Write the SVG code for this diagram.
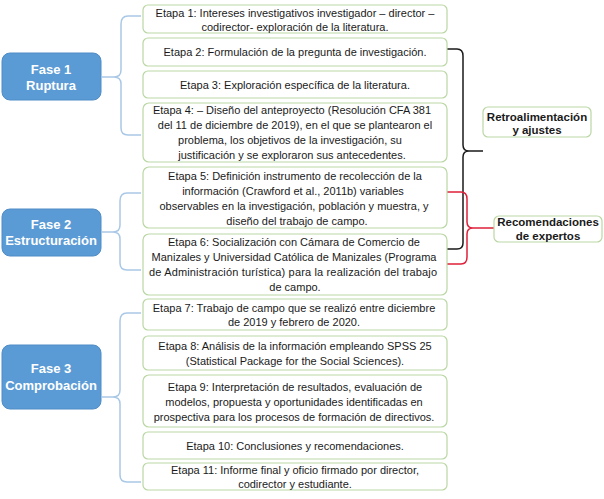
<svg xmlns="http://www.w3.org/2000/svg" width="604" height="499" viewBox="0 0 604 499">
<style>
.fase rect{fill:#5B9BD5;stroke:#4F8CC6;stroke-width:1}
.fase text{font-family:"Liberation Sans",Arial,sans-serif;font-size:13px;font-weight:bold;fill:#FFFFFF;text-anchor:middle}
.etapa rect{fill:#FFFFFF;stroke:#B9D7A3;stroke-width:1.2}
.etapa text{font-family:"Liberation Sans",Arial,sans-serif;font-size:11px;fill:#1A1A1A;text-anchor:middle}
.etapa text.just{text-anchor:start}
.note rect{fill:#FFFFFF;stroke:#B9D7A3;stroke-width:1.2}
.note text{font-family:"Liberation Sans",Arial,sans-serif;font-size:11.5px;font-weight:bold;fill:#1A1A1A;text-anchor:middle}
.blue{fill:none;stroke:#A9C8E6;stroke-width:1.5}
.black{fill:none;stroke:#1A1A1A;stroke-width:1.5}
.red{fill:none;stroke:#E0203A;stroke-width:1.5}
</style>
<g id="connectors">
<path class="blue" d="M141,16 H128 Q121,16 121,24 V70 Q121,77 114,77 H102 M114,77 Q121,77 121,84 V128 Q121,135 128,135 H141"/>
<path class="blue" d="M141,193 H127 Q120,193 120,201 V225 Q120,232 113,232 H102 M113,232 Q120,232 120,239 V263 Q120,270 127,270 H141"/>
<path class="blue" d="M141,313 H127 Q120,313 120,321 V390 Q120,397 113,397 H102 M113,397 Q120,397 120,404 V475 Q120,482 127,482 H141"/>
<path class="black" d="M447,49 H457 Q463,49 463,56 V145 Q463,151 469,151 H483 M469,151 Q463,151 463,157 V243 Q463,249 457,249 H446"/>
<path class="red" d="M446,192 H461 Q467,192 467,199 V222 Q467,228 473,228 H495 M473,228 Q467,228 467,234 V257 Q467,264 461,264 H446"/>
</g>
<g id="fase1" class="fase"><rect x="2" y="53" width="99" height="47" rx="8"/><text x="51" y="74">Fase 1</text><text x="51" y="90">Ruptura</text></g>
<g id="fase2" class="fase"><rect x="2" y="209" width="99" height="47" rx="8"/><text x="51" y="229">Fase 2</text><text x="51" y="245">Estructuración</text></g>
<g id="fase3" class="fase"><rect x="2" y="345" width="99" height="64" rx="8"/><text x="51" y="373">Fase 3</text><text x="51" y="390">Comprobación</text></g>
<g id="etapa1" class="etapa"><rect x="143" y="5" width="304" height="28" rx="5"/><text x="295" y="17">Etapa 1: Intereses investigativos investigador – director –</text><text x="295" y="31">codirector- exploración de la literatura.</text></g>
<g id="etapa2" class="etapa"><rect x="143" y="38" width="304" height="28" rx="5"/><text x="295" y="56">Etapa 2: Formulación de la pregunta de investigación.</text></g>
<g id="etapa3" class="etapa"><rect x="143" y="71" width="304" height="27" rx="5"/><text x="295" y="89">Etapa 3: Exploración específica de la literatura.</text></g>
<g id="etapa4" class="etapa"><rect x="143" y="103" width="304" height="59" rx="6"/><text x="292" y="114">Etapa 4: – Diseño del anteproyecto (Resolución CFA 381</text><text x="295" y="129">del 11 de diciembre de 2019), en el que se plantearon el</text><text x="290" y="144">problema, los objetivos de la investigación, su</text><text x="292" y="159">justificación y se exploraron sus antecedentes.</text></g>
<g id="etapa5" class="etapa"><rect x="143" y="167" width="304" height="61" rx="6"/><text x="295" y="180">Etapa 5: Definición instrumento de recolección de la</text><text x="293" y="195">información (Crawford et al., 2011b) variables</text><text x="294" y="210">observables en la investigación, población y muestra, y</text><text x="297" y="225">diseño del trabajo de campo.</text></g>
<g id="etapa6" class="etapa"><rect x="143" y="234" width="304" height="61" rx="6"/><text x="294" y="246">Etapa 6: Socialización con Cámara de Comercio de</text><text x="294" y="261">Manizales y Universidad Católica de Manizales (Programa</text><text class="just" x="149" y="276" textLength="288" lengthAdjust="spacing">de Administración turística) para la realización del trabajo</text><text x="295" y="291">de campo.</text></g>
<g id="etapa7" class="etapa"><rect x="143" y="299" width="304" height="31" rx="5"/><text x="294" y="312">Etapa 7: Trabajo de campo que se realizó entre diciembre</text><text x="294" y="326">de 2019 y febrero de 2020.</text></g>
<g id="etapa8" class="etapa"><rect x="143" y="336" width="304" height="34" rx="5"/><text x="295" y="350">Etapa 8: Análisis de la información empleando SPSS 25</text><text x="295" y="365">(Statistical Package for the Social Sciences).</text></g>
<g id="etapa9" class="etapa"><rect x="143" y="375" width="304" height="52" rx="6"/><text x="295" y="391">Etapa 9: Interpretación de resultados, evaluación de</text><text x="294" y="406">modelos, propuesta y oportunidades identificadas en</text><text x="294" y="421">prospectiva para los procesos de formación de directivos.</text></g>
<g id="etapa10" class="etapa"><rect x="143" y="432" width="304" height="27" rx="5"/><text x="295" y="450">Etapa 10: Conclusiones y recomendaciones.</text></g>
<g id="etapa11" class="etapa"><rect x="143" y="463" width="304" height="27" rx="5"/><text x="295" y="474">Etapa 11: Informe final y oficio firmado por director,</text><text x="295" y="488">codirector y estudiante.</text></g>
<g id="retro" class="note"><rect x="483" y="107" width="108" height="30" rx="5"/><text x="537" y="121">Retroalimentación</text><text x="537" y="134">y ajustes</text></g>
<g id="recom" class="note"><rect x="494" y="216" width="108" height="26" rx="5"/><text x="548" y="226">Recomendaciones</text><text x="548" y="240">de expertos</text></g>
</svg>
